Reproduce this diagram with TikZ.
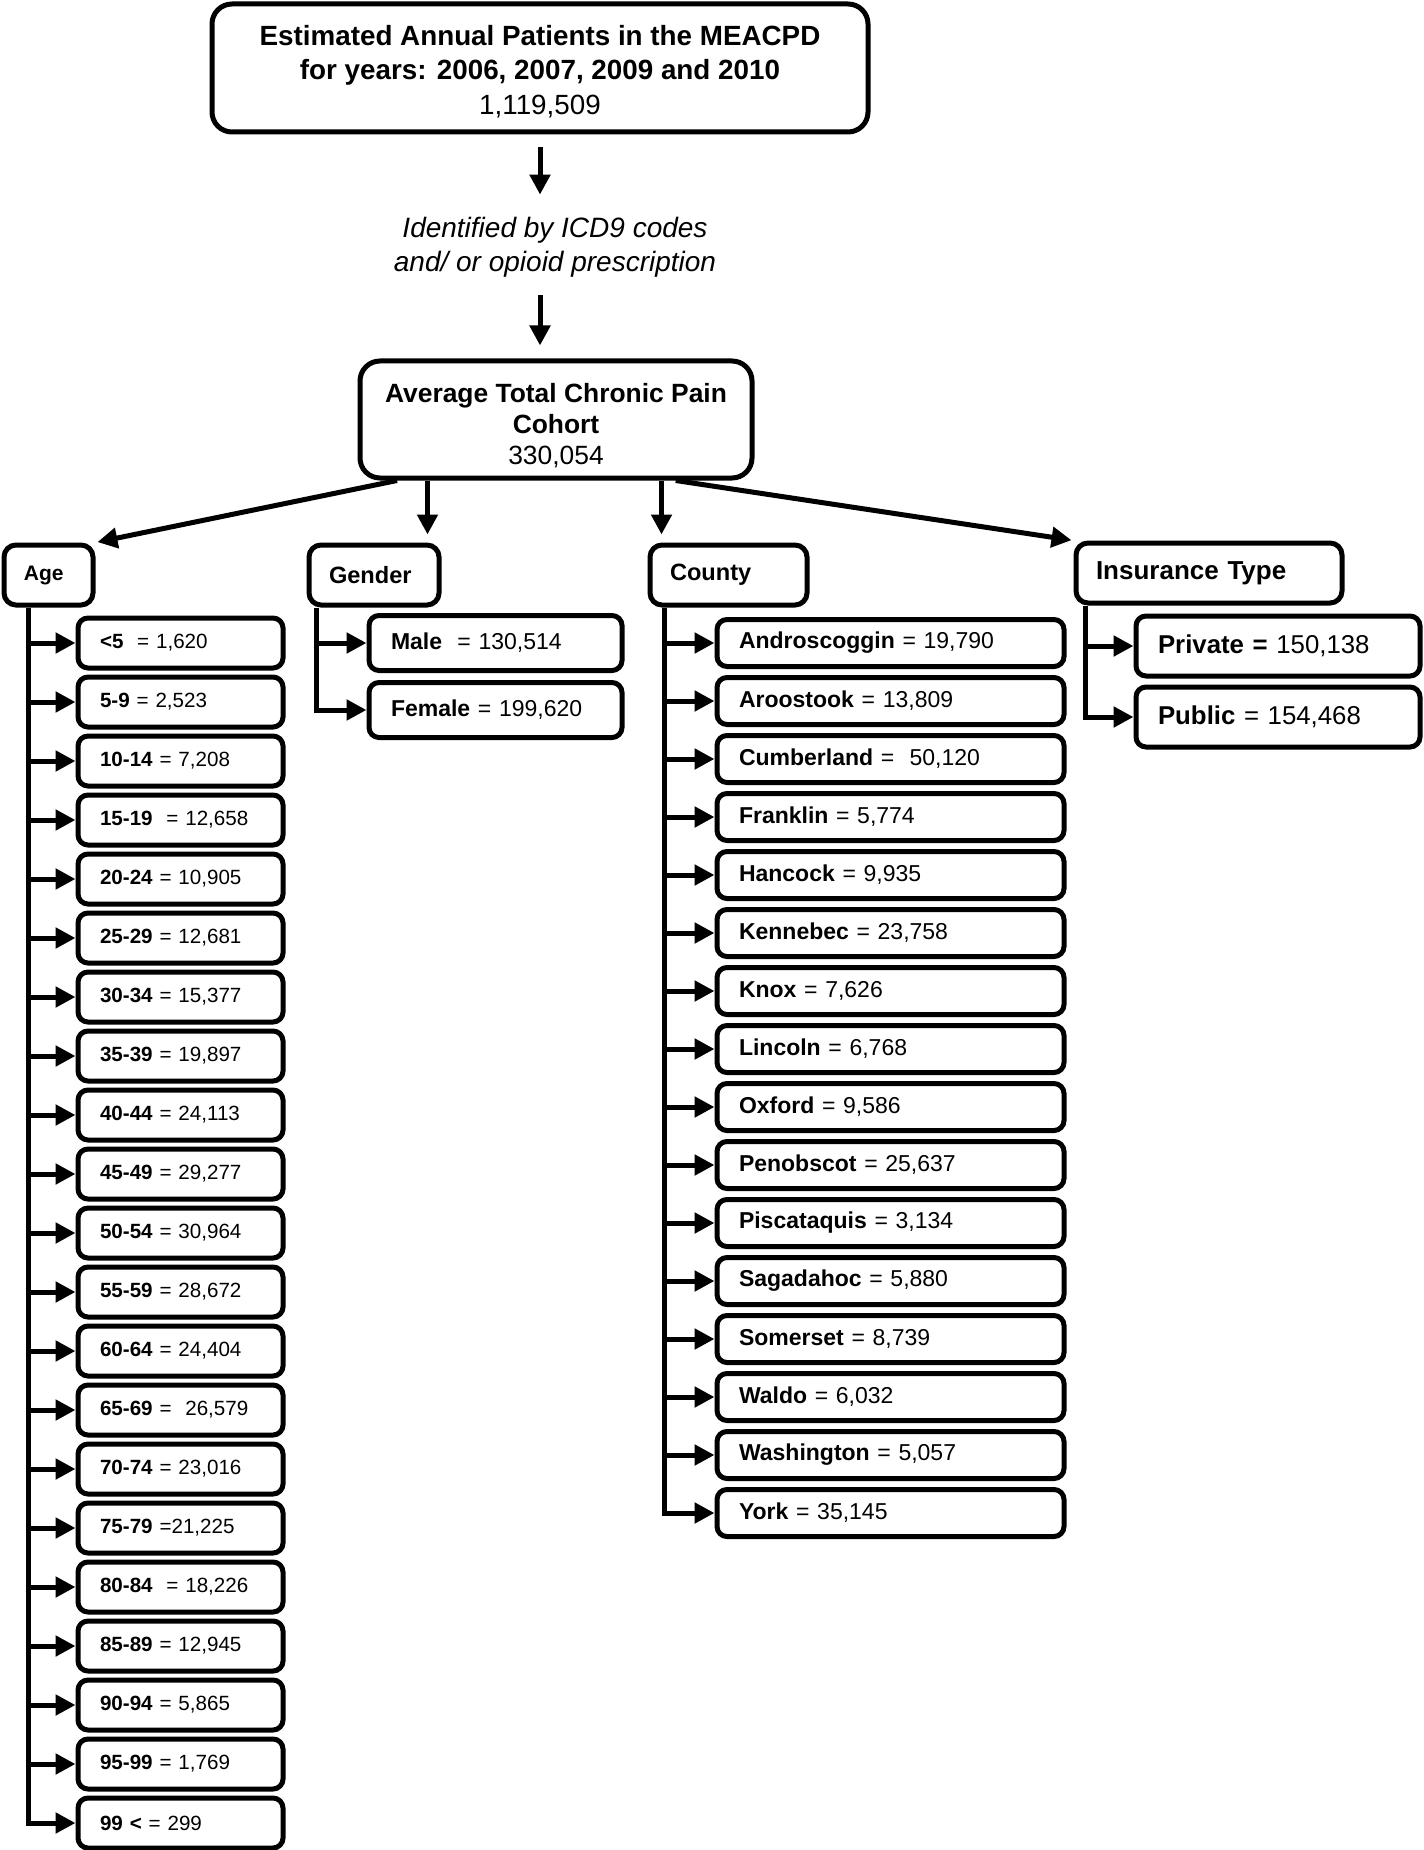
\documentclass[tikz,border=0pt]{standalone}
\usepackage{fontspec}
\setmainfont{Liberation Sans}
\usetikzlibrary{arrows.meta,positioning}

\begin{document}
\begin{tikzpicture}[
    x=0.5pt, y=-0.5pt,
    bigbox/.style={rectangle, rounded corners=10pt, draw=black, line width=2.5pt, align=center, font=\fontsize{13.9}{17.25}\selectfont},
    catbox/.style={rectangle, rounded corners=6pt, draw=black, line width=2.5pt, minimum height=30pt, inner xsep=10pt, align=left, font=\fontsize{11.8}{14}\selectfont\bfseries},
    agebox/.style={rectangle, rounded corners=5pt, draw=black, line width=2.5pt, minimum height=25pt, inner xsep=11pt, text width=80.5pt, align=left, font=\fontsize{10.3}{12}\selectfont},
    genbox/.style={rectangle, rounded corners=5pt, draw=black, line width=2.5pt, minimum height=27.5pt, inner xsep=11pt, text width=104.5pt, align=left, font=\fontsize{11.5}{14}\selectfont},
    coubox/.style={rectangle, rounded corners=5pt, draw=black, line width=2.5pt, minimum height=23.5pt, inner xsep=11pt, text width=151.5pt, align=left, font=\fontsize{11.5}{13}\selectfont},
    insbox/.style={rectangle, rounded corners=5pt, draw=black, line width=2.5pt, minimum height=30pt, inner xsep=11pt, text width=120pt, align=left, font=\fontsize{12.9}{15}\selectfont},
    arrow/.style={line width=2.5pt, -{Triangle[length=10pt,width=10pt]}}
]
    \useasboundingbox (0,0) rectangle (1423,1850);

    \node (top) [bigbox, minimum width=328pt, minimum height=64pt] at (540,68) {\rule{0pt}{13.6pt}\textbf{Estimated Annual Patients in the MEACPD}\\\textbf{for years: 2006, 2007, 2009 and 2010}\\1,119,509};
    \node (ident) [align=center, minimum height=50pt, inner sep=0pt, font=\fontsize{14}{17}\selectfont\itshape] at (555,245) {\rule{0pt}{12.6pt}Identified by ICD9 codes\\and/ or opioid prescription};
    \node (cohort) [bigbox, minimum width=196pt, minimum height=58.5pt, font=\fontsize{13.2}{15.5}\selectfont] at (556,419.5) {\rule{0pt}{16pt}\textbf{Average Total Chronic Pain}\\\textbf{Cohort}\\330,054};

    % categories
    \node (age) [catbox, text width=24.5pt, font=\fontsize{10.5}{12}\selectfont\bfseries] at (48.5,575) {Age};
    \node (gender) [catbox, text width=45pt] at (374,575) {Gender};
    \node (county) [catbox, text width=58.5pt] at (728.5,575) {County};
    \node (insur) [catbox, text width=113pt, font=\fontsize{13}{15}\selectfont\bfseries] at (1209,573) {Insurance Type};

    % age groups
    \node (a1) [agebox] at (180.5,643) {\textbf{<5}\ \ = 1,620};
    \node (a2) [agebox, below=2pt of a1] {\textbf{5-9} = 2,523};
    \node (a3) [agebox, below=2pt of a2] {\textbf{10-14} = 7,208};
    \node (a4) [agebox, below=2pt of a3] {\textbf{15-19}\ \ = 12,658};
    \node (a5) [agebox, below=2pt of a4] {\textbf{20-24} = 10,905};
    \node (a6) [agebox, below=2pt of a5] {\textbf{25-29} = 12,681};
    \node (a7) [agebox, below=2pt of a6] {\textbf{30-34} = 15,377};
    \node (a8) [agebox, below=2pt of a7] {\textbf{35-39} = 19,897};
    \node (a9) [agebox, below=2pt of a8] {\textbf{40-44} = 24,113};
    \node (a10) [agebox, below=2pt of a9] {\textbf{45-49} = 29,277};
    \node (a11) [agebox, below=2pt of a10] {\textbf{50-54} = 30,964};
    \node (a12) [agebox, below=2pt of a11] {\textbf{55-59} = 28,672};
    \node (a13) [agebox, below=2pt of a12] {\textbf{60-64} = 24,404};
    \node (a14) [agebox, below=2pt of a13] {\textbf{65-69} =\ \ 26,579};
    \node (a15) [agebox, below=2pt of a14] {\textbf{70-74} = 23,016};
    \node (a16) [agebox, below=2pt of a15] {\textbf{75-79} =21,225};
    \node (a17) [agebox, below=2pt of a16] {\textbf{80-84}\ \ = 18,226};
    \node (a18) [agebox, below=2pt of a17] {\textbf{85-89} = 12,945};
    \node (a19) [agebox, below=2pt of a18] {\textbf{90-94} = 5,865};
    \node (a20) [agebox, below=2pt of a19] {\textbf{95-99} = 1,769};
    \node (a21) [agebox, below=2pt of a20] {\textbf{99 <} = 299};

    % gender
    \node (g1) [genbox] at (495.5,643) {\textbf{Male}\ \ = 130,514};
    \node (g2) [genbox, below=3.5pt of g1] {\textbf{Female} = 199,620};

    % counties
    \node (c1) [coubox] at (890.5,643) {\textbf{Androscoggin} = 19,790};
    \node (c2) [coubox, below=3pt of c1] {\textbf{Aroostook} = 13,809};
    \node (c3) [coubox, below=3pt of c2] {\textbf{Cumberland} =\ \ 50,120};
    \node (c4) [coubox, below=3pt of c3] {\textbf{Franklin} = 5,774};
    \node (c5) [coubox, below=3pt of c4] {\textbf{Hancock} = 9,935};
    \node (c6) [coubox, below=3pt of c5] {\textbf{Kennebec} = 23,758};
    \node (c7) [coubox, below=3pt of c6] {\textbf{Knox} = 7,626};
    \node (c8) [coubox, below=3pt of c7] {\textbf{Lincoln} = 6,768};
    \node (c9) [coubox, below=3pt of c8] {\textbf{Oxford} = 9,586};
    \node (c10) [coubox, below=3pt of c9] {\textbf{Penobscot} = 25,637};
    \node (c11) [coubox, below=3pt of c10] {\textbf{Piscataquis} = 3,134};
    \node (c12) [coubox, below=3pt of c11] {\textbf{Sagadahoc} = 5,880};
    \node (c13) [coubox, below=3pt of c12] {\textbf{Somerset} = 8,739};
    \node (c14) [coubox, below=3pt of c13] {\textbf{Waldo} = 6,032};
    \node (c15) [coubox, below=3pt of c14] {\textbf{Washington} = 5,057};
    \node (c16) [coubox, below=3pt of c15] {\textbf{York} = 35,145};

    % insurance
    \node (i1) [insbox] at (1278,646) {\textbf{Private =} 150,138};
    \node (i2) [insbox, below=3pt of i1] {\textbf{Public} = 154,468};

    \coordinate (agetrunk) at ([xshift=13.5pt]age.south west);
    \coordinate (gentrunk) at ([xshift=5pt]gender.south west);
    \coordinate (coutrunk) at ([xshift=8.5pt]county.south west);
    \coordinate (instrunk) at ([xshift=6pt]insur.south west);
    \coordinate (gtip) at ([xshift=-7pt]gender.north east);
    \coordinate (ctip) at ([xshift=7pt]county.north west);

    \draw [arrow, shorten <=6.5pt] (top.south) -- (ident.north -| top.south);
    \draw [arrow, shorten >=6.5pt] (ident.south -| top.south) -- (cohort.north -| top.south);
    \draw [arrow, shorten >=1pt] (cohort.201) -- (age.north east);
    \draw [arrow, shorten >=4pt] (gtip |- cohort.south) -- (gtip);
    \draw [arrow, shorten >=4pt] (ctip |- cohort.south) -- (ctip);
    \draw [arrow, shorten >=1pt] (cohort.-27) -- (insur.north west);

    \draw [arrow] (agetrunk) |- (a21.west);
    \draw [arrow] (agetrunk |- a1.west) -- (a1.west);
    \draw [arrow] (agetrunk |- a2.west) -- (a2.west);
    \draw [arrow] (agetrunk |- a3.west) -- (a3.west);
    \draw [arrow] (agetrunk |- a4.west) -- (a4.west);
    \draw [arrow] (agetrunk |- a5.west) -- (a5.west);
    \draw [arrow] (agetrunk |- a6.west) -- (a6.west);
    \draw [arrow] (agetrunk |- a7.west) -- (a7.west);
    \draw [arrow] (agetrunk |- a8.west) -- (a8.west);
    \draw [arrow] (agetrunk |- a9.west) -- (a9.west);
    \draw [arrow] (agetrunk |- a10.west) -- (a10.west);
    \draw [arrow] (agetrunk |- a11.west) -- (a11.west);
    \draw [arrow] (agetrunk |- a12.west) -- (a12.west);
    \draw [arrow] (agetrunk |- a13.west) -- (a13.west);
    \draw [arrow] (agetrunk |- a14.west) -- (a14.west);
    \draw [arrow] (agetrunk |- a15.west) -- (a15.west);
    \draw [arrow] (agetrunk |- a16.west) -- (a16.west);
    \draw [arrow] (agetrunk |- a17.west) -- (a17.west);
    \draw [arrow] (agetrunk |- a18.west) -- (a18.west);
    \draw [arrow] (agetrunk |- a19.west) -- (a19.west);
    \draw [arrow] (agetrunk |- a20.west) -- (a20.west);

    \draw [arrow] (gentrunk) |- (g2.west);
    \draw [arrow] (gentrunk |- g1.west) -- (g1.west);

    \draw [arrow] (coutrunk) |- (c16.west);
    \draw [arrow] (coutrunk |- c1.west) -- (c1.west);
    \draw [arrow] (coutrunk |- c2.west) -- (c2.west);
    \draw [arrow] (coutrunk |- c3.west) -- (c3.west);
    \draw [arrow] (coutrunk |- c4.west) -- (c4.west);
    \draw [arrow] (coutrunk |- c5.west) -- (c5.west);
    \draw [arrow] (coutrunk |- c6.west) -- (c6.west);
    \draw [arrow] (coutrunk |- c7.west) -- (c7.west);
    \draw [arrow] (coutrunk |- c8.west) -- (c8.west);
    \draw [arrow] (coutrunk |- c9.west) -- (c9.west);
    \draw [arrow] (coutrunk |- c10.west) -- (c10.west);
    \draw [arrow] (coutrunk |- c11.west) -- (c11.west);
    \draw [arrow] (coutrunk |- c12.west) -- (c12.west);
    \draw [arrow] (coutrunk |- c13.west) -- (c13.west);
    \draw [arrow] (coutrunk |- c14.west) -- (c14.west);
    \draw [arrow] (coutrunk |- c15.west) -- (c15.west);

    \draw [arrow] (instrunk) |- (i2.west);
    \draw [arrow] (instrunk |- i1.west) -- (i1.west);
\end{tikzpicture}
\end{document}
